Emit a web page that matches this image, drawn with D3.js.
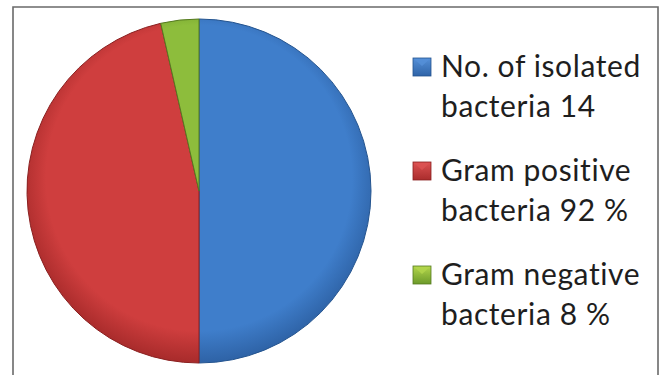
<!DOCTYPE html>
<html><head><meta charset="utf-8">
<script src="https://cdn.jsdelivr.net/npm/d3@7"></script>
<style>html,body{margin:0;padding:0;background:#fff;}svg{display:block;}</style>
</head><body>
<script>
const categories = ["No. of isolated bacteria 14", "Gram positive bacteria 92 %", "Gram negative bacteria 8 %"];
const legendLines = [["No. of isolated", "bacteria 14"], ["Gram positive", "bacteria 92 %"], ["Gram negative", "bacteria 8 %"]];
const values = [14, 13, 1];
const colors = [
  {mid: "#3f7ecb", light: "#5590d8", dark: "#2f64a8", stroke: "#24548f"},
  {mid: "#cf3e3e", light: "#dc5252", dark: "#aa2c2c", stroke: "#8a2020"},
  {mid: "#8dbd3c", light: "#b3d64c", dark: "#6c9a2a", stroke: "#557a20"}
];

const W = 659, H = 375;
const svg = d3.select("body").append("svg").attr("width", W).attr("height", H);
const defs = svg.append("defs");

// frame
svg.append("path").attr("d", `M13,${H} L13,7 L658,7 L658,${H}`)
  .attr("fill", "none").attr("stroke", "#6a6a6a").attr("stroke-width", 1.6);

const cx = 199, cy = 191, r = 172;
colors.forEach((c, i) => {
  const g = defs.append("radialGradient").attr("id", "rg" + i)
    .attr("gradientUnits", "userSpaceOnUse").attr("cx", 0).attr("cy", -10).attr("r", r + 8)
    .attr("fx", 0).attr("fy", -30);
  g.append("stop").attr("offset", "0%").attr("stop-color", c.mid);
  g.append("stop").attr("offset", "85%").attr("stop-color", c.mid);
  g.append("stop").attr("offset", "100%").attr("stop-color", c.dark);
  const lg = defs.append("linearGradient").attr("id", "lg" + i).attr("x1", 0).attr("y1", 0).attr("x2", 0).attr("y2", 1);
  lg.append("stop").attr("offset", "0%").attr("stop-color", c.light);
  lg.append("stop").attr("offset", "100%").attr("stop-color", c.dark);
});

const pie = d3.pie().sort(null).value(d => d)(values);
const arc = d3.arc().innerRadius(0).outerRadius(r);
svg.append("g").attr("transform", `translate(${cx},${cy})`)
  .selectAll("path").data(pie).join("path")
  .attr("d", arc)
  .attr("fill", (d, i) => `url(#rg${i})`)
  .attr("stroke", (d, i) => colors[i].stroke).attr("stroke-width", 1);

// legend
const legX = 413, legY0 = 67, legStep = 104, lineGap = 40;
const leg = svg.append("g");
legendLines.forEach((lines, i) => {
  const y = legY0 + i * legStep;
  leg.append("rect").attr("x", legX).attr("y", y - 9).attr("width", 18).attr("height", 18)
    .attr("fill", `url(#lg${i})`).attr("stroke", colors[i].stroke).attr("stroke-width", 0.8);
  leg.append("path").attr("d", `M${legX+1},${y-8} L${legX+9},${y-1} L${legX+17},${y-8} Z`)
    .attr("fill", colors[i].light).attr("opacity", 0.8);
  lines.forEach((t, j) => {
    leg.append("text").attr("x", 441).attr("y", y + j * lineGap + 10)
      .attr("font-family", "Lato, 'Open Sans', sans-serif").attr("font-size", 30)
      .attr("letter-spacing", 0.6)
      .attr("fill", "#1e1e1e").text(t);
  });
});
</script>
</body></html>
